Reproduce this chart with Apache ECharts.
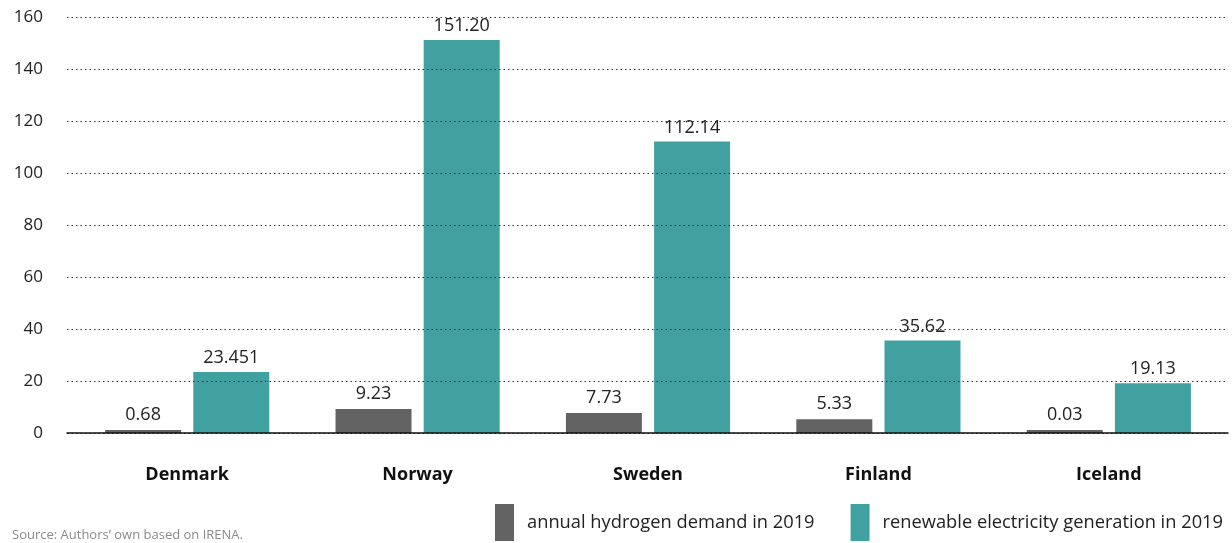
<!DOCTYPE html>
<html>
<head>
<meta charset="utf-8">
<script src="https://cdn.jsdelivr.net/npm/echarts@6/dist/echarts.min.js"></script>
<style>
html,body{margin:0;padding:0;background:#fff;}
#chart{width:1232px;height:543px;}
</style>
</head>
<body>
<div id="chart"></div>
<script>
const categories = ['Denmark', 'Norway', 'Sweden', 'Finland', 'Iceland'];
const hydrogenDemand = [0.68, 9.23, 7.73, 5.33, 0.03];
const hydrogenLabels = ['0.68', '9.23', '7.73', '5.33', '0.03'];
const renewableGen = [23.451, 151.20, 112.14, 35.62, 19.13];
const renewableLabels = ['23.451', '151.20', '112.14', '35.62', '19.13'];
const seriesNames = ['annual hydrogen demand in 2019', 'renewable electricity generation in 2019'];
const yTicks = [0, 20, 40, 60, 80, 100, 120, 140, 160];

const FONT = 'Open Sans';
const chart = echarts.init(document.getElementById('chart'));
chart.setOption({
  animation: false,
  textStyle: { fontFamily: FONT },
  grid: [
    { left: 67, right: 4, top: 17, bottom: 110, containLabel: false },
    { left: 72, right: 8, top: 17, bottom: 110, containLabel: false }
  ],
  legend: {
    right: 9, bottom: 2, padding: 0,
    icon: 'rect',
    itemWidth: 19, itemHeight: 37,
    itemGap: 36,
    textStyle: { fontFamily: FONT, fontSize: 18.3, color: '#222', padding: [0, 0, 0, 8] },
    data: seriesNames
  },
  graphic: [{
    type: 'text', left: 12, bottom: 1,
    style: { text: 'Source: Authors\u2019 own based on IRENA.', fontFamily: FONT, fontSize: 13, fill: '#8a8a8a' }
  }],
  xAxis: [
    {
      gridIndex: 0, type: 'category', data: categories,
      axisLine: { lineStyle: { color: '#111', width: 1.5 } },
      axisTick: { show: false }, axisLabel: { show: false }, z: 6
    },
    {
      gridIndex: 1, type: 'category', data: categories,
      axisLine: { show: false }, axisTick: { show: false },
      axisLabel: { margin: 33, fontFamily: FONT, fontSize: 18, fontWeight: 'bold', color: '#111' }
    }
  ],
  yAxis: [
    {
      gridIndex: 0, type: 'value',
      min: yTicks[0], max: yTicks[yTicks.length - 1], interval: 20,
      z: 5,
      axisLine: { show: false }, axisTick: { show: false },
      axisLabel: { margin: 24, fontFamily: FONT, fontSize: 17, color: '#222', align: 'right' },
      splitLine: { lineStyle: { color: '#333', type: [1.5, 3], width: 1.2 } }
    },
    {
      gridIndex: 1, type: 'value',
      min: yTicks[0], max: yTicks[yTicks.length - 1], interval: 20,
      axisLine: { show: false }, axisTick: { show: false },
      axisLabel: { show: false }, splitLine: { show: false }
    }
  ],
  series: [
    {
      name: seriesNames[0], type: 'bar', data: hydrogenDemand,
      xAxisIndex: 1, yAxisIndex: 1,
      barWidth: 76, barGap: '16%', barMinHeight: 3,
      itemStyle: { color: '#636363' },
      label: { show: true, position: 'top', distance: 6, fontFamily: FONT, fontSize: 18, color: '#222',
        formatter: p => hydrogenLabels[p.dataIndex] }
    },
    {
      name: seriesNames[1], type: 'bar', data: renewableGen,
      xAxisIndex: 1, yAxisIndex: 1,
      barWidth: 76, barGap: '16%',
      itemStyle: { color: '#41a0a0' },
      label: { show: true, position: 'top', distance: 5, fontFamily: FONT, fontSize: 18, color: '#222',
        formatter: p => renewableLabels[p.dataIndex] }
    }
  ]
});
</script>
</body>
</html>
